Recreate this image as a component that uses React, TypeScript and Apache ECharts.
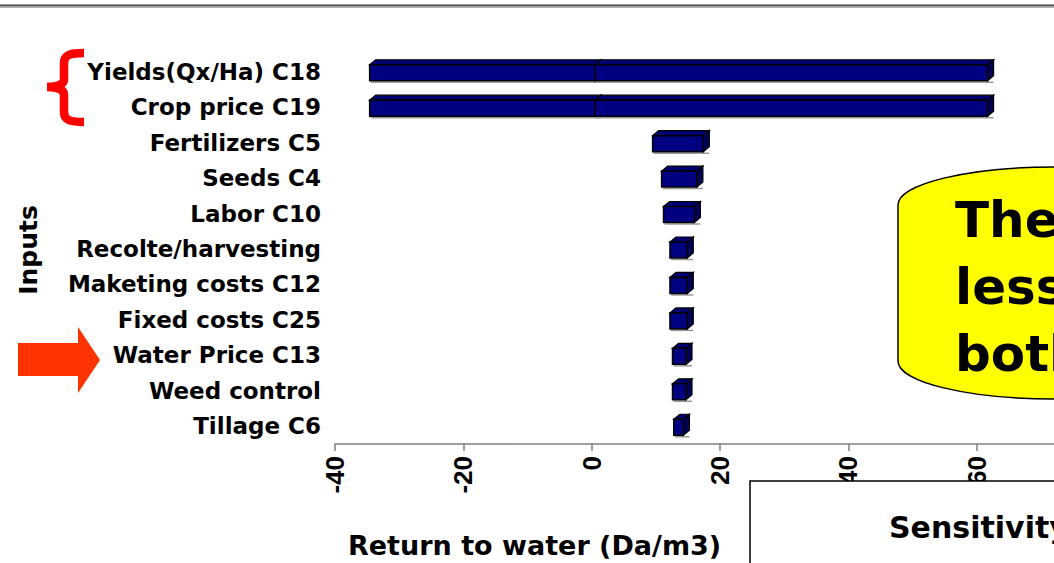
import React, { useEffect, useRef } from "react";
import * as echarts from "echarts";

const categories = [
  "Yields(Qx/Ha) C18",
  "Crop price C19",
  "Fertilizers C5",
  "Seeds C4",
  "Labor C10",
  "Recolte/harvesting",
  "Maketing costs C12",
  "Fixed costs C25",
  "Water Price C13",
  "Weed control",
  "Tillage C6",
];
const lowValues = [-34.6, -34.6, 9.5, 10.9, 11.2, 12.2, 12.2, 12.2, 12.6, 12.6, 12.8];
const highValues = [61.7, 61.7, 17.4, 16.4, 16.0, 14.9, 14.9, 14.9, 14.7, 14.7, 14.3];
const splitValues: (number | null)[] = [0.5, 0.5, null, null, null, null, null, null, null, null, null];
const xTicks = { min: -40, max: 80, interval: 20 };
const axisTitle = "Return to water (Da/m3)";
const yTitle = "Inputs";
const calloutLines = ["The", "less", "both"];
const boxTitle = "Sensitivity";

const BRACE =
  "M84,53 C70,53 64,55 64,63 L64,79 C64,84 58,87 47,87 C58,87 64,90 64,95 L64,112 C64,120 70,122 84,122";
const CALLOUT =
  "M898,205 C898,184 968,167 1054,167 L1300,167 L1300,399 L1054,399 C968,399 898,382 898,361 Z";

let registered = false;
function registerShapes() {
  if (registered) return;
  registered = true;
  echarts.graphic.registerShape("brace", echarts.graphic.extendPath(BRACE, {}) as any);
  echarts.graphic.registerShape("callout", echarts.graphic.extendPath(CALLOUT, {}) as any);
}

export default function App() {
  const ref = useRef<HTMLDivElement>(null);
  useEffect(() => {
    if (!ref.current) return;
    registerShapes();
    const chart = echarts.init(ref.current, null, { renderer: "svg" });
    const data = categories.map((_, i) => [
      lowValues[i],
      highValues[i],
      splitValues[i] == null ? "-" : splitValues[i],
      i,
    ]);
    const H = 16;
    const DX = 6;
    const DY = -5;
    const renderItem = (params: any, api: any) => {
      const low = api.value(0);
      const high = api.value(1);
      const split = api.value(2);
      const idx = api.value(3);
      const segs =
        split == null || isNaN(split) ? [[low, high]] : [[low, split], [split, high]];
      const children: any[] = [];
      segs.forEach(([a, b]) => {
        const pa = api.coord([a, idx]);
        const pb = api.coord([b, idx]);
        const x0 = pa[0];
        const x1 = pb[0];
        const yT = pa[1] - H / 2 + 1;
        children.push({
          type: "line",
          shape: { x1: x0 + 1, y1: yT + H + 1.5, x2: x1 + DX, y2: yT + H + 1.5 },
          style: { stroke: "#9a9a9a", lineWidth: 1.5 },
        });
        children.push({
          type: "polygon",
          shape: { points: [[x0, yT], [x0 + DX, yT + DY], [x1 + DX, yT + DY], [x1, yT]] },
          style: { fill: "#000070", stroke: "#000000", lineWidth: 1.2 },
        });
        children.push({
          type: "polygon",
          shape: {
            points: [[x1, yT], [x1 + DX, yT + DY], [x1 + DX, yT + DY + H], [x1, yT + H]],
          },
          style: { fill: "#000055", stroke: "#000000", lineWidth: 1.2 },
        });
        children.push({
          type: "rect",
          shape: { x: x0, y: yT, width: x1 - x0, height: H },
          style: { fill: "#000080", stroke: "#000000", lineWidth: 1.5 },
        });
      });
      return { type: "group", children };
    };

    chart.setOption({
      animation: false,
      grid: { left: 335, top: 54, bottom: 119, right: 15, containLabel: false },
      xAxis: {
        type: "value",
        min: xTicks.min,
        max: xTicks.max,
        interval: xTicks.interval,
        axisLine: { show: true, lineStyle: { color: "#808080", width: 1.5 } },
        axisTick: { show: true, length: 7, lineStyle: { color: "#808080", width: 1.5 } },
        splitLine: { show: false },
        axisLabel: {
          rotate: 90,
          margin: 12,
          showMaxLabel: false,
          color: "#000",
          fontFamily: "Liberation Sans",
          fontWeight: "bold",
          fontSize: 26,
        },
      },
      yAxis: {
        type: "category",
        data: categories,
        inverse: true,
        axisLine: { show: false },
        axisTick: { show: false },
        splitLine: { show: false },
        axisLabel: {
          margin: 14,
          color: "#000",
          fontFamily: "DejaVu Sans",
          fontWeight: "bold",
          fontSize: 23,
        },
      },
      series: [
        {
          type: "custom",
          renderItem,
          encode: { x: [0, 1], y: 3 },
          data,
        },
      ],
      graphic: [
        {
          type: "line",
          z: 100,
          shape: { x1: 0, y1: 5.5, x2: 1054, y2: 5.5 },
          style: { stroke: "#4a4a4a", lineWidth: 2 },
        },
        {
          type: "line",
          z: 100,
          shape: { x1: 0, y1: 7.5, x2: 1054, y2: 7.5 },
          style: { stroke: "#b0b0b0", lineWidth: 1 },
        },
        {
          type: "brace",
          z: 100,
          x: 0,
          y: 0,
          style: { fill: "none", stroke: "#ff0000", lineWidth: 8.5 },
        },
        {
          type: "polygon",
          z: 100,
          shape: {
            points: [[18, 343], [78, 343], [78, 327], [100, 360], [78, 393], [78, 376], [18, 376]],
          },
          style: { fill: "#ff3300" },
        },
        {
          type: "text",
          z: 100,
          x: 28,
          y: 250,
          rotation: Math.PI / 2,
          style: {
            text: yTitle,
            fill: "#000",
            font: "bold 25px 'DejaVu Sans'",
            align: "center",
            verticalAlign: "middle",
          },
        },
        {
          type: "text",
          z: 100,
          x: 348,
          y: 545,
          style: {
            text: axisTitle,
            fill: "#000",
            font: "bold 27px 'DejaVu Sans'",
            align: "left",
            verticalAlign: "middle",
          },
        },
        {
          type: "callout",
          z: 100,
          x: 0,
          y: 0,
          style: { fill: "#ffff00", stroke: "#000", lineWidth: 1.5 },
        },
        ...calloutLines.map((t, i) => ({
          type: "text",
          z: 101,
          x: 955,
          y: 220 + i * 67,
          style: {
            text: t,
            fill: "#000",
            font: "bold 50px 'DejaVu Sans'",
            align: "left",
            verticalAlign: "middle",
          },
        })),
        {
          type: "rect",
          z: 100,
          shape: { x: 750, y: 481, width: 400, height: 200 },
          style: { fill: "#fff", stroke: "#000", lineWidth: 1.5 },
        },
        {
          type: "text",
          z: 101,
          x: 889,
          y: 527,
          style: {
            text: boxTitle,
            fill: "#000",
            font: "bold 30px 'DejaVu Sans'",
            align: "left",
            verticalAlign: "middle",
          },
        },
      ],
    });
    return () => chart.dispose();
  }, []);
  return (
    <div
      style={{
        position: "absolute",
        left: 0,
        top: 0,
        width: 1054,
        height: 563,
        overflow: "hidden",
        background: "#fff",
      }}
    >
      <div ref={ref} style={{ width: 1120, height: 563 }} />
    </div>
  );
}
